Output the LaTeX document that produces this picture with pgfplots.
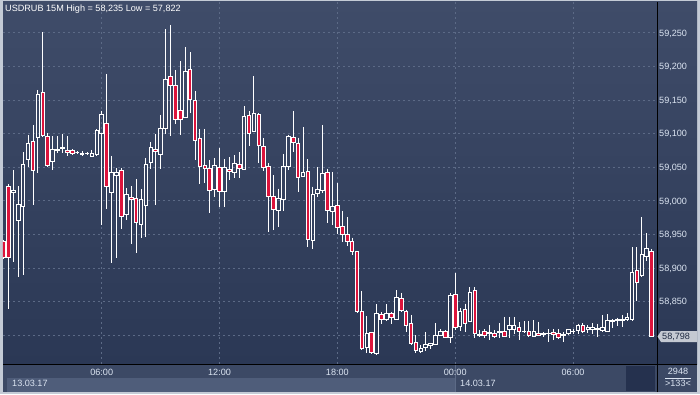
\documentclass[border=0pt]{standalone}
\usepackage{fontspec}
\setmainfont{Liberation Sans}
\usepackage{pgfplots}
\usepackage{pgfplotstable}
\pgfplotsset{compat=1.18}

\definecolor{bgtop}{RGB}{63,76,105}
\definecolor{bgbot}{RGB}{43,56,85}
\definecolor{barbg}{RGB}{60,73,101}
\definecolor{strip}{RGB}{79,93,122}
\definecolor{darkbox}{RGB}{37,49,78}
\definecolor{framec}{RGB}{196,203,214}
\definecolor{gridc}{RGB}{92,106,134}
\definecolor{lbl}{RGB}{220,229,242}
\definecolor{candlered}{RGB}{220,20,60}
\definecolor{pricebox}{RGB}{196,201,210}
\definecolor{pricetext}{RGB}{28,40,64}

\pgfplotstableread{
i o h l c
0 58.940 58.942 58.913 58.915
1 59.022 59.025 58.839 58.915
2 59.012 59.046 58.909 59.015
3 58.971 59.022 58.887 58.994
4 58.991 59.072 58.890 59.054
5 59.062 59.098 59.051 59.086
6 59.088 59.113 58.993 59.045
7 59.095 59.165 59.042 59.159
8 59.162 59.251 59.095 59.098
9 59.096 59.101 59.051 59.053
10 59.058 59.096 59.046 59.076
11 59.075 59.096 59.071 59.077
12 59.078 59.100 59.071 59.079
13 59.075 59.096 59.066 59.072
14 59.075 59.077 59.068 59.071
15 59.072 59.074 59.069 59.072
16 59.069 59.074 59.067 59.071
17 59.070 59.073 59.068 59.070
18 59.066 59.076 59.066 59.071
19 59.069 59.107 59.066 59.104
20 59.101 59.134 58.964 59.129
21 59.115 59.189 58.988 59.021
22 59.012 59.067 58.908 59.042
23 59.038 59.049 58.915 59.042
24 59.045 59.049 58.958 58.976
25 58.980 59.019 58.971 59.010
26 59.005 59.022 58.936 59.002
27 59.003 59.032 58.922 58.968
28 58.965 59.017 58.944 59.002
29 58.993 59.064 58.946 59.054
30 59.057 59.087 59.047 59.079
31 59.077 59.099 58.993 59.073
32 59.069 59.128 59.047 59.108
33 59.107 59.256 59.100 59.180
34 59.185 59.262 59.096 59.171
35 59.172 59.195 59.114 59.121
36 59.134 59.208 59.098 59.121
37 59.124 59.229 59.124 59.193
38 59.196 59.221 59.130 59.151
39 59.150 59.163 59.060 59.090
40 59.093 59.107 59.025 59.051
41 59.053 59.107 59.027 59.048
42 59.048 59.061 58.982 59.015
43 59.017 59.064 59.005 59.052
44 59.050 59.079 58.991 59.014
45 59.014 59.062 58.991 59.049
46 59.047 59.065 59.031 59.043
47 59.042 59.068 59.034 59.056
48 59.054 59.072 59.034 59.048
49 59.047 59.141 59.046 59.126
50 59.127 59.133 59.082 59.101
51 59.103 59.186 59.103 59.130
52 59.129 59.131 59.057 59.082
53 59.081 59.093 59.044 59.049
54 59.051 59.056 58.953 59.006
55 59.006 59.038 58.957 58.987
56 58.986 59.018 58.961 59.004
57 59.002 59.070 58.985 59.051
58 59.051 59.098 59.046 59.096
59 59.095 59.134 59.072 59.087
60 59.086 59.094 59.013 59.035
61 59.036 59.110 59.036 59.042
62 59.044 59.062 58.931 58.943
63 58.941 59.021 58.928 59.010
64 59.011 59.050 59.005 59.017
65 59.016 59.113 59.011 59.041
66 59.042 59.048 58.967 58.985
67 58.984 59.043 58.964 58.992
68 58.993 59.026 58.951 58.961
69 58.962 58.985 58.938 58.950
70 58.950 58.976 58.932 58.939
71 58.940 58.945 58.919 58.925
72 58.924 58.925 58.834 58.835
73 58.835 58.866 58.779 58.780
74 58.781 58.828 58.774 58.803
75 58.804 58.805 58.773 58.774
76 58.773 58.846 58.770 58.833
77 58.831 58.834 58.817 58.824
78 58.824 58.846 58.821 58.833
79 58.833 58.834 58.817 58.827
80 58.824 58.867 58.822 58.856
81 58.855 58.863 58.834 58.836
82 58.835 58.838 58.805 58.815
83 58.817 58.830 58.785 58.788
84 58.789 58.800 58.774 58.777
85 58.775 58.785 58.774 58.780
86 58.781 58.805 58.777 58.786
87 58.785 58.787 58.779 58.787
88 58.786 58.818 58.786 58.800
89 58.799 58.809 58.799 58.806
90 58.806 58.808 58.795 58.797
91 58.796 58.863 58.788 58.859
92 58.861 58.892 58.807 58.811
93 58.813 58.840 58.806 58.835
94 58.838 58.847 58.805 58.818
95 58.821 58.871 58.820 58.864
96 58.867 58.871 58.795 58.803
97 58.799 58.808 58.797 58.801
98 58.806 58.809 58.795 58.800
99 58.803 58.815 58.792 58.804
100 58.803 58.808 58.795 58.798
101 58.804 58.818 58.795 58.805
102 58.806 58.827 58.797 58.798
103 58.809 58.827 58.795 58.815
104 58.809 58.827 58.802 58.815
105 58.812 58.819 58.793 58.806
106 58.805 58.821 58.803 58.806
107 58.806 58.821 58.797 58.800
108 58.798 58.822 58.797 58.805
109 58.803 58.820 58.798 58.800
110 58.801 58.805 58.797 58.802
111 58.802 58.809 58.790 58.803
112 58.804 58.809 58.792 58.801
113 58.803 58.809 58.794 58.797
114 58.800 58.805 58.790 58.801
115 58.802 58.809 58.800 58.809
116 58.805 58.809 58.802 58.806
117 58.807 58.817 58.802 58.815
118 58.814 58.818 58.803 58.806
119 58.809 58.815 58.803 58.811
120 58.809 58.818 58.802 58.812
121 58.809 58.817 58.797 58.810
122 58.807 58.830 58.805 58.812
123 58.805 58.831 58.805 58.822
124 58.821 58.824 58.811 58.822
125 58.822 58.826 58.813 58.823
126 58.822 58.830 58.812 58.824
127 58.824 58.833 58.821 58.826
128 58.823 58.931 58.821 58.894
129 58.896 58.931 58.851 58.879
130 58.889 58.976 58.887 58.920
131 58.917 58.952 58.911 58.929
132 58.925 58.928 58.797 58.798
}\candles

\begin{document}
\begin{tikzpicture}
\useasboundingbox (0pt,0pt) rectangle (700pt,394pt);
\fill[framec] (0pt,0pt) rectangle (700pt,394pt);
\shade[top color=bgtop,bottom color=bgbot] (3pt,30pt) rectangle (697pt,392pt);
\fill[barbg] (3pt,2pt) rectangle (697pt,30pt);
\fill[strip] (7pt,2pt) rectangle (455pt,16pt);
\fill[darkbox] (626pt,3pt) rectangle (655pt,28pt);
\draw[gridc, line width=0.6pt] (455.5pt,2pt) -- (455.5pt,30pt);

\begin{axis}[
  at={(3pt,30pt)}, anchor=south west,
  scale only axis, width=654pt, height=362pt,
  xmin=-0.1, xmax=133.1, ymin=58.757, ymax=59.296,
  axis line style={draw=none}, tick style={draw=none}, major tick length=0pt,
  grid=major,
  major grid style={gridc, dash pattern=on 2pt off 3pt, line width=0.8pt},
  xtick={20,44,68,92,116},
  xticklabels={06:00,12:00,18:00,00:00,06:00},
  ytick={58.80,58.85,58.90,58.95,59.00,59.05,59.10,59.15,59.20,59.25},
  yticklabels={{},{58,850},{58,900},{58,950},{59,000},{59,050},{59,100},{59,150},{59,200},{59,250}},
  yticklabel pos=right,
  ticklabel style={font=\fontsize{9.1}{11}\selectfont, text=lbl, inner sep=0pt},
  xticklabel style={anchor=base, yshift=-11.7pt},
  yticklabel style={anchor=base west, xshift=2pt, yshift=-3.3pt},
  wick/.style={white, line width=0.9pt},
  body/.style={draw=white, line width=0.9pt, line join=miter},
]
\pgfplotstablegetrowsof{\candles}
\pgfmathtruncatemacro\lastrow{\pgfplotsretval-1}
\pgfplotsinvokeforeach{0,...,\lastrow}{%
  \pgfplotstablegetelem{#1}{i}\of\candles\let\cI\pgfplotsretval
  \pgfplotstablegetelem{#1}{o}\of\candles\let\cO\pgfplotsretval
  \pgfplotstablegetelem{#1}{h}\of\candles\let\cH\pgfplotsretval
  \pgfplotstablegetelem{#1}{l}\of\candles\let\cL\pgfplotsretval
  \pgfplotstablegetelem{#1}{c}\of\candles\let\cC\pgfplotsretval
  \pgfmathsetmacro\cT{max(\cO,\cC)}%
  \pgfmathsetmacro\cB{min(\cO,\cC)}%
  \pgfmathsetmacro\xL{\cI-0.37}%
  \pgfmathsetmacro\xR{\cI+0.37}%
  \ifdim\cC pt<\cO pt\def\bfill{candlered}\else\def\bfill{none}\fi
  \edef\docandle{%
    \noexpand\addplot[wick] coordinates {(\cI,\cH) (\cI,\cT)};
    \noexpand\addplot[wick] coordinates {(\cI,\cB) (\cI,\cL)};
    \noexpand\addplot[body,fill=\bfill] coordinates {(\xL,\cO) (\xR,\cO) (\xR,\cC) (\xL,\cC)} -- cycle;
  }\docandle
}
\end{axis}

\draw[black, line width=1pt] (657pt,2pt) -- (657pt,392pt);
\draw[black, line width=1pt] (3pt,30pt) -- (697pt,30pt);

\begin{scope}[every node/.style={font=\fontsize{9.1}{11}\selectfont, inner sep=0pt}]
\node[anchor=base west, text=white] at (5pt,382pt) {USDRUB 15M High = 58,235 Low = 57,822};
\node[anchor=base west, text=lbl] at (12pt,7.5pt) {13.03.17};
\node[anchor=base west, text=lbl] at (460pt,7.5pt) {14.03.17};
\node[anchor=base, text=lbl] at (678pt,19.7pt) {2948};
\node[anchor=base, text=lbl] at (678pt,7.3pt) {>133<};
\draw[lbl, line width=0.6pt] (665pt,16pt) -- (691pt,16pt);
\fill[pricebox] (657.5pt,57.5pt) -- (661pt,63pt) -- (697pt,63pt) -- (697pt,52pt) -- (661pt,52pt) -- cycle;
\node[anchor=base west, text=pricetext] at (662pt,54.2pt) {58,798};
\end{scope}
\end{tikzpicture}
\end{document}
